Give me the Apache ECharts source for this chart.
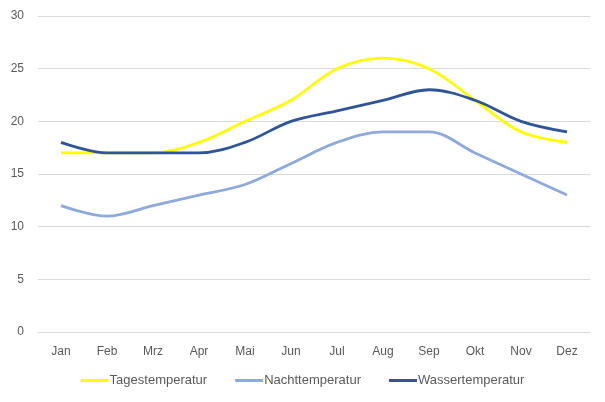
<!DOCTYPE html>
<html><head><meta charset="utf-8">
<script src="https://cdn.jsdelivr.net/npm/echarts@6/dist/echarts.min.js"></script>
<style>html,body{margin:0;padding:0;background:#fff}#c{width:605px;height:402px}</style>
</head><body><div id="c"></div>
<script>
const categories = ['Jan','Feb','Mrz','Apr','Mai','Jun','Jul','Aug','Sep','Okt','Nov','Dez'];
const tages = [17,17,17,18,20,22,25,26,25,22,19,18];
const nacht = [12,11,12,13,14,16,18,19,19,17,15,13];
const wasser = [18,17,17,17,18,20,21,22,23,22,20,19];
const seriesNames = ['Tagestemperatur','Nachttemperatur','Wassertemperatur'];
const colors = ['#FFFF00','#8EA9DB','#2F5597'];
const chart = echarts.init(document.getElementById('c'), null, {renderer:'canvas'});
const font = 'Liberation Sans, Arial, sans-serif';
function mk(name, data, color){
  return {name, type:'line', data, smooth:0.35, symbol:'none', lineStyle:{width:2.8,color}, itemStyle:{color}};
}
chart.setOption({
  animation:false,
  color: colors,
  grid:{left:38,right:15,top:16,bottom:70,containLabel:false},
  legend:{bottom:10,left:'center',itemWidth:28,itemHeight:3,icon:'rect',itemGap:28,
    textStyle:{color:'#595959',fontSize:13,fontFamily:font,padding:[0,0,0,-4]}},
  xAxis:{type:'category',data:categories,boundaryGap:true,
    axisLine:{lineStyle:{color:'#d9d9d9'}},axisTick:{show:false},
    axisLabel:{color:'#595959',fontSize:12,fontFamily:font,margin:14}},
  yAxis:{type:'value',min:0,max:30,interval:5,
    axisLine:{show:false},axisTick:{show:false},
    splitLine:{lineStyle:{color:'#d9d9d9',width:1}},
    axisLabel:{color:'#595959',fontSize:12,fontFamily:font,margin:14}},
  series:[mk(seriesNames[0],tages,colors[0]),mk(seriesNames[1],nacht,colors[1]),mk(seriesNames[2],wasser,colors[2])]
});
</script></body></html>
